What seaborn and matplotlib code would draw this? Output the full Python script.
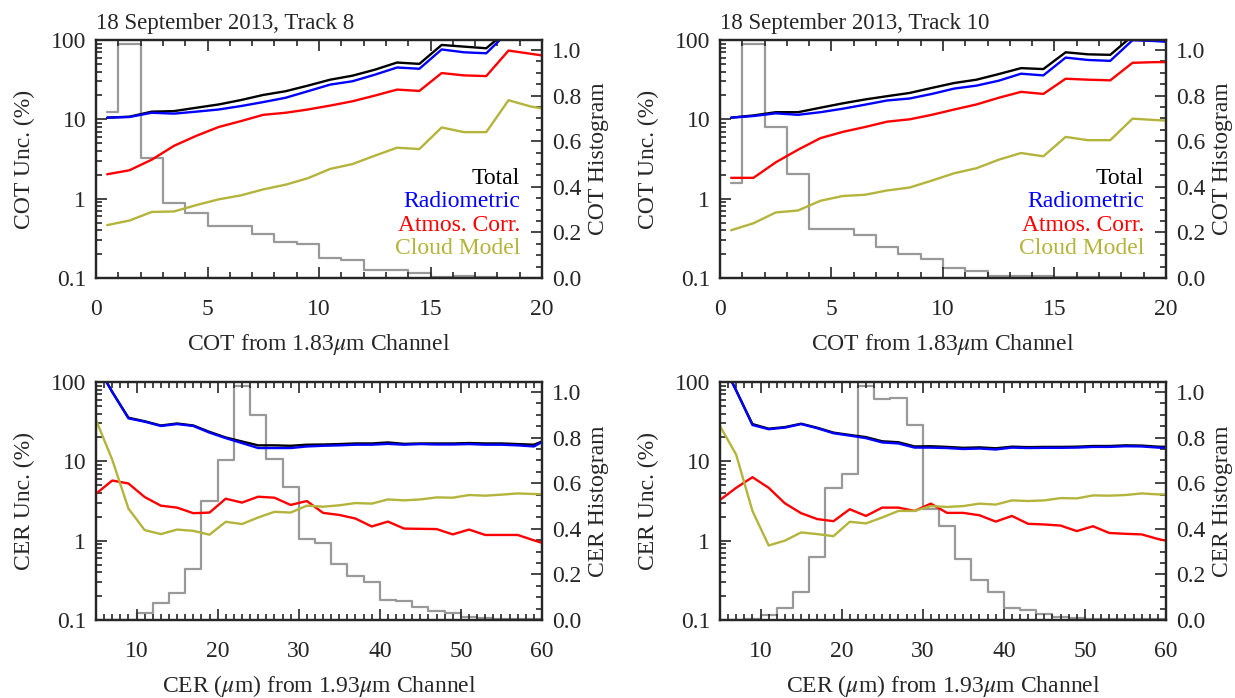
import numpy as np
import pandas as pd
import seaborn as sns
import matplotlib.pyplot as plt
from matplotlib.ticker import MultipleLocator, FixedLocator, LogLocator, NullFormatter

# COT bins (centres) and values
cot_x = [0.5, 1.5, 2.5, 3.5, 4.5, 5.5, 6.5, 7.5, 8.5, 9.5, 10.5,
         11.5, 12.5, 13.5, 14.5, 15.5, 16.5, 17.5, 18.5, 19.5, 20.5]

t8_cot_total = [10.5, 10.8, 12.5, 12.7, 14.0, 15.4, 17.5, 20.3, 22.6, 26.6, 31.6,
                35.5, 42.2, 52, 50, 86.6, 82.5, 78.7, 135, 140, 130]
t8_cot_rad = [10.5, 10.7, 12.1, 11.8, 12.5, 13.3, 14.7, 16.5, 18.7, 22.6, 27.4,
              30.2, 36.5, 45, 43.4, 76, 70, 68, 128, 130, 125]
t8_cot_atm = [2.03, 2.28, 3.1, 4.64, 6.2, 8.0, 9.5, 11.4, 12.1, 13.3, 14.9,
              16.9, 19.9, 23.7, 22.8, 38.3, 35.8, 35.1, 73.6, 67, 61]
t8_cot_cld = [0.464, 0.53, 0.68, 0.69, 0.83, 0.98, 1.1, 1.31, 1.5, 1.81, 2.37,
              2.73, 3.48, 4.39, 4.22, 7.9, 6.9, 6.9, 17.4, 14.5, 13]
t8_cot_hist = [0.73, 1.025, 0.528, 0.328, 0.284, 0.228, 0.228, 0.193, 0.159, 0.148, 0.086,
               0.079, 0.035, 0.035, 0.023, 0.003, 0.009, 0.003, 0.0, 0.0, 0.0]

t10_cot_total = [10.5, 11.2, 12.3, 12.3, 14.0, 15.9, 17.8, 19.6, 21.5, 24.9, 28.7,
                 31.6, 37.2, 44.2, 43, 70, 66, 65, 113, 110, 106]
t10_cot_rad = [10.5, 11.0, 11.9, 11.4, 12.3, 13.6, 15.3, 17.3, 18.3, 20.9, 24.4,
               26.6, 30.7, 37.6, 35.8, 60, 56, 54.6, 99.5, 97, 93]
t10_cot_atm = [1.83, 1.83, 2.87, 4.14, 5.79, 6.94, 8.0, 9.35, 10.0, 11.4, 13.3,
               15.4, 18.7, 22.2, 20.9, 32.5, 31.6, 31, 51.6, 52.6, 52.6]
t10_cot_cld = [0.40, 0.49, 0.67, 0.71, 0.94, 1.08, 1.12, 1.27, 1.38, 1.69, 2.09,
               2.42, 3.10, 3.76, 3.42, 6.0, 5.46, 5.46, 10.2, 9.8, 9.5]
t10_cot_hist = [0.415, 1.025, 0.664, 0.456, 0.215, 0.215, 0.189, 0.137, 0.105, 0.085, 0.042,
                0.032, 0.010, 0.010, 0.007, 0.003, 0.003, 0.003, 0.0, 0.0, 0.0]

# CER bins (centres)
cer_x = [5, 7, 9, 11, 13, 15, 17, 19, 21, 23, 25, 27, 29, 31, 33,
         35, 37, 39, 41, 43, 45, 47, 49, 51, 53, 55, 57, 59, 61]

t8_cer_total = [170, 75, 35.5, 32, 28.3, 30, 28.3, 23.5, 20, 17.8, 15.9, 15.9, 15.7, 16.2, 16.3,
                16.5, 16.8, 16.8, 17.3, 16.6, 16.8, 16.8, 16.8, 17.0, 16.8, 16.8, 16.5, 16.2, 19.5]
t8_cer_rad = [170, 75, 34.8, 31.6, 27.9, 29.5, 27.9, 23.0, 19.6, 17.0, 14.7, 14.7, 14.7, 15.4, 15.7,
              15.9, 16.2, 16.2, 16.6, 16.2, 16.5, 16.3, 16.3, 16.5, 16.2, 16.2, 15.9, 15.4, 19.8]
t8_cer_atm = [3.9, 5.73, 5.26, 3.55, 2.76, 2.61, 2.22, 2.26, 3.38, 3.02, 3.58, 3.48, 2.82, 3.16, 2.24,
              2.11, 1.90, 1.51, 1.74, 1.42, 1.41, 1.40, 1.20, 1.38, 1.18, 1.18, 1.18, 1.01, 0.87]
t8_cer_cld = [33.2, 10.5, 2.54, 1.36, 1.21, 1.38, 1.33, 1.19, 1.73, 1.62, 1.96, 2.31, 2.26, 2.76, 2.68,
              2.79, 2.98, 2.93, 3.31, 3.22, 3.31, 3.51, 3.48, 3.76, 3.69, 3.80, 3.94, 3.87, 3.87]
t8_cer_hist = [0, 0, 0, 0.029, 0.076, 0.117, 0.222, 0.523, 0.704, 1.025, 0.901, 0.708, 0.584, 0.357, 0.339,
               0.245, 0.194, 0.165, 0.088, 0.083, 0.055, 0.041, 0.032, 0.011, 0.010, 0.006, 0.006, 0.006, 0.004]

t10_cer_total = [200, 78, 29.5, 25.8, 27, 29.8, 26.5, 23, 21.5, 20.2, 17.9, 17.4, 15.4, 15.5, 15.2,
                 14.8, 15.0, 14.6, 15.3, 15.1, 15.2, 15.2, 15.3, 15.6, 15.6, 15.9, 15.8, 15.3, 15.2]
t10_cer_rad = [200, 78, 28.7, 25.4, 26.6, 29.5, 26.1, 22.6, 21.1, 19.6, 17.3, 16.8, 14.9, 14.9, 14.7,
               14.3, 14.5, 14.1, 14.9, 14.7, 14.8, 14.8, 14.9, 15.2, 15.2, 15.5, 15.4, 14.9, 14.8]
t10_cer_atm = [3.26, 4.64, 6.31, 4.64, 2.96, 2.22, 1.87, 1.76, 2.49, 2.05, 2.61, 2.61, 2.37, 2.93, 2.24,
               2.24, 2.09, 1.74, 2.05, 1.63, 1.60, 1.55, 1.32, 1.52, 1.25, 1.22, 1.20, 1.05, 0.95]
t10_cer_cld = [27.9, 12.1, 2.37, 0.87, 1.0, 1.27, 1.21, 1.14, 1.73, 1.65, 1.96, 2.37, 2.37, 2.73, 2.66,
               2.73, 2.93, 2.85, 3.22, 3.16, 3.22, 3.44, 3.41, 3.72, 3.69, 3.76, 3.94, 3.83, 3.83]
t10_cer_hist = [0, 0, 0.004, 0.022, 0.051, 0.124, 0.277, 0.577, 0.642, 1.025, 0.971, 0.975, 0.854, 0.485, 0.412,
                0.267, 0.175, 0.124, 0.054, 0.044, 0.026, 0.014, 0.010, 0.006, 0.004, 0.003, 0.003, 0.003, 0.003]

legend_names = ['Total', 'Radiometric', 'Atmos. Corr.', 'Cloud Model']
colors = ['black', '#0000ff', '#ff0000', '#b4b43c']
hist_color = '#999999'

sns.set_theme(style='ticks')
plt.rcParams['font.family'] = ['Liberation Serif', 'DejaVu Serif']
plt.rcParams['mathtext.fontset'] = 'stix'
fs = 17
plt.rcParams.update({'font.size': fs, 'axes.labelsize': fs, 'xtick.labelsize': fs,
                     'ytick.labelsize': fs, 'axes.titlesize': 16.5})

W, H = 1235, 698
fig = plt.figure(figsize=(W / 100, H / 100), dpi=100)


def panel(left_px, top_px, x, series, hist, kind, title=None, legend=False):
    ax = fig.add_axes([left_px / W, 1 - (top_px + 238) / H, 446 / W, 238 / H])
    ax2 = ax.twinx()
    # histogram below the uncertainty curves
    ax.set_zorder(ax2.get_zorder() + 1)
    ax.patch.set_visible(False)

    sns.lineplot(x=x, y=hist, ax=ax2, color=hist_color, lw=1.6,
                 drawstyle='steps-mid', estimator=None)
    for vals, c in zip(series, colors):
        sns.lineplot(x=x, y=vals, ax=ax, color=c, lw=1.7, estimator=None)

    ax.set_yscale('log')
    ax.set_ylim(0.1, 100)
    ax.yaxis.set_major_locator(FixedLocator([0.1, 1, 10, 100]))
    ax.set_yticklabels(['0.1', '1', '10', '100'])
    ax.yaxis.set_minor_locator(LogLocator(base=10, subs=np.arange(2, 10)))
    ax.yaxis.set_minor_formatter(NullFormatter())

    if kind == 'COT':
        ax.set_xlim(0, 20)
        ax.xaxis.set_major_locator(MultipleLocator(5))
        ax.xaxis.set_minor_locator(MultipleLocator(1))
        ax.set_xlabel(r'COT from 1.83$\mu$m Channel')
        ax.xaxis.set_label_coords(0.5, -0.228)
    else:
        ax.set_xlim(5, 60)
        ax.xaxis.set_major_locator(MultipleLocator(10))
        ax.xaxis.set_minor_locator(MultipleLocator(1))
        ax.set_xlabel(r'CER ($\mu$m) from 1.93$\mu$m Channel')
        ax.xaxis.set_label_coords(0.5, -0.222)
    ax.set_ylabel(f'{kind} Unc. (%)')
    ax.yaxis.set_label_coords(-0.137, 0.5)

    ax2.set_ylim(0, 1.044)
    ax2.yaxis.set_minor_locator(MultipleLocator(0.05))
    ax2.set_yticks([0, 0.2, 0.4, 0.6, 0.8, 1.0])
    ax2.set_yticklabels(['0.0', '0.2', '0.4', '0.6', '0.8', '1.0'])
    ax2.set_ylabel(f'{kind} Histogram', rotation=90)
    ax2.yaxis.set_label_coords(1.103, 0.5)

    ax.tick_params(which='both', direction='in', top=True, right=False, width=1.2)
    ax.tick_params(axis='x', which='major', length=8, pad=15)
    ax.tick_params(axis='y', which='major', length=8, pad=7)
    ax.tick_params(which='minor', length=4)
    ax2.tick_params(which='both', direction='in', width=1.2)
    ax2.tick_params(which='major', length=8, pad=7)
    ax2.tick_params(which='minor', length=4)
    for a in (ax, ax2):
        for s in a.spines.values():
            s.set_linewidth(1.6)
            s.set_visible(True)

    if title:
        ax.set_title(title, loc='left', pad=8)
    if legend:
        for name, c, yy in zip(legend_names, colors, [0.42, 0.322, 0.222, 0.124]):
            ax.text(0.951, yy, name, color=c, transform=ax.transAxes,
                    ha='right', va='center', fontsize=fs)
    return ax


panel(96, 40, cot_x, [t8_cot_total, t8_cot_rad, t8_cot_atm, t8_cot_cld], t8_cot_hist,
      'COT', title='18 September 2013, Track 8', legend=True)
panel(720, 40, cot_x, [t10_cot_total, t10_cot_rad, t10_cot_atm, t10_cot_cld], t10_cot_hist,
      'COT', title='18 September 2013, Track 10', legend=True)
panel(96, 382, cer_x, [t8_cer_total, t8_cer_rad, t8_cer_atm, t8_cer_cld], t8_cer_hist, 'CER')
panel(720, 382, cer_x, [t10_cer_total, t10_cer_rad, t10_cer_atm, t10_cer_cld], t10_cer_hist, 'CER')

fig.savefig('out.png', dpi=100)
